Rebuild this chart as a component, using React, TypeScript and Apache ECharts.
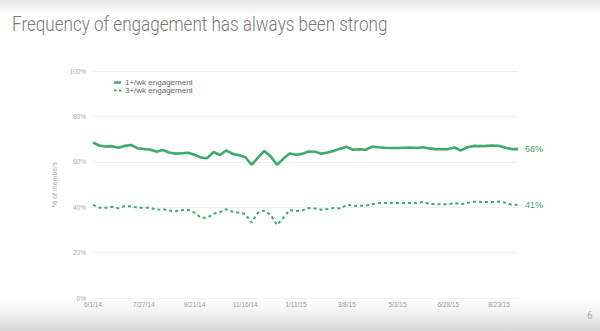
import React, { useEffect, useRef } from "react";
import * as echarts from "echarts";

const dates = [
  "6/1/14", "6/8/14", "6/15/14", "6/22/14", "6/29/14", "7/6/14", "7/13/14", "7/20/14",
  "7/27/14", "8/3/14", "8/10/14", "8/17/14", "8/24/14", "8/31/14", "9/7/14", "9/14/14",
  "9/21/14", "9/28/14", "10/5/14", "10/12/14", "10/19/14", "10/26/14", "11/2/14", "11/9/14",
  "11/16/14", "11/23/14", "11/30/14", "12/7/14", "12/14/14", "12/21/14", "12/28/14", "1/4/15",
  "1/11/15", "1/18/15", "1/25/15", "2/1/15", "2/8/15", "2/15/15", "2/22/15", "3/1/15",
  "3/8/15", "3/15/15", "3/22/15", "3/29/15", "4/5/15", "4/12/15", "4/19/15", "4/26/15",
  "5/3/15", "5/10/15", "5/17/15", "5/24/15", "5/31/15", "6/7/15", "6/14/15", "6/21/15",
  "6/28/15", "7/5/15", "7/12/15", "7/19/15", "7/26/15", "8/2/15", "8/9/15", "8/16/15",
  "8/23/15", "8/30/15", "9/6/15", "9/13/15",
];

const weekly1 = [
  68.5, 67.2, 66.7, 66.9, 66.2, 67.0, 67.4, 66.0, 65.6, 65.4, 64.4, 65.2, 64.1, 63.6, 63.8, 64.0,
  63.1, 61.9, 61.6, 64.3, 63.0, 65.0, 63.5, 62.9, 62.1, 58.7, 61.7, 64.8, 62.4, 58.7, 61.3, 63.7,
  63.1, 63.5, 64.5, 64.4, 63.6, 64.1, 64.9, 65.8, 66.6, 65.3, 65.5, 65.3, 66.7, 66.4, 66.2, 66.1,
  66.1, 66.2, 66.3, 66.1, 66.4, 65.9, 65.6, 65.5, 65.6, 66.3, 65.0, 66.4, 67.0, 66.9, 67.0, 67.2,
  67.1, 66.2, 65.6, 65.6,
];

const weekly3 = [
  41.0, 39.8, 39.8, 40.2, 39.6, 40.5, 40.4, 39.8, 39.8, 39.8, 38.8, 39.2, 38.5, 38.2, 38.7, 38.8,
  37.6, 35.4, 35.4, 37.1, 37.8, 39.1, 38.0, 37.6, 37.0, 33.2, 37.6, 38.5, 36.6, 32.2, 35.3, 38.8,
  38.2, 38.6, 39.6, 39.4, 38.9, 39.2, 39.6, 39.4, 41.1, 40.7, 40.6, 40.7, 41.3, 41.8, 41.9, 41.9,
  41.8, 41.8, 41.8, 41.8, 42.3, 41.5, 41.3, 41.3, 41.3, 41.8, 41.3, 41.9, 42.4, 42.3, 42.3, 42.3,
  42.5, 42.0, 41.1, 41.1,
];

const seriesNames = ["1+/wk engagement", "3+/wk engagement"];
const yTicks = [0, 20, 40, 60, 80, 100];
const title = "Frequency of engagement has always been strong";
const pageNumber = "6";

const GREEN = "#3dab6d";

export default function App() {
  const ref = useRef<HTMLDivElement>(null);

  useEffect(() => {
    if (!ref.current) return;
    const chart = echarts.init(ref.current, null, { renderer: "svg" });
    chart.setOption({
      animation: false,
      textStyle: { fontFamily: "Liberation Sans, Arial, sans-serif" },
      grid: { left: 93, right: 82, top: 71, bottom: 33, containLabel: false },
      graphic: [
        {
          type: "line",
          shape: { x1: 114, y1: 82.5, x2: 121, y2: 82.5 },
          style: { stroke: GREEN, lineWidth: 2.4 },
        },
        {
          type: "text",
          left: 125,
          top: 78.5,
          style: { text: seriesNames[0], fontSize: 8, fill: "#666", fontFamily: "Liberation Sans, Arial, sans-serif" },
        },
        {
          type: "line",
          shape: { x1: 114, y1: 90.5, x2: 121.5, y2: 90.5 },
          style: { stroke: GREEN, lineWidth: 2, lineDash: [2.5, 2.5] },
        },
        {
          type: "text",
          left: 125,
          top: 86.5,
          style: { text: seriesNames[1], fontSize: 8, fill: "#666", fontFamily: "Liberation Sans, Arial, sans-serif" },
        },
      ],
      xAxis: {
        type: "category",
        data: dates,
        boundaryGap: false,
        axisLine: { show: true, lineStyle: { color: "#f2f2f2", width: 1 } },
        axisTick: { show: false },
        axisLabel: { interval: 7, fontSize: 6.5, color: "#999", margin: 3 },
        splitLine: { show: false },
      },
      yAxis: {
        type: "value",
        min: 0,
        max: 100,
        interval: 20,
        name: "% of members",
        nameLocation: "middle",
        nameGap: 31,
        nameRotate: 90,
        nameTextStyle: { fontSize: 7, color: "#aaa" },
        axisLine: { show: false },
        axisTick: { show: false },
        axisLabel: {
          fontSize: 6.5,
          color: "#aaa",
          margin: 7,
          formatter: (v: number) => (yTicks.includes(v) ? v + "%" : ""),
        },
        splitLine: { lineStyle: { color: "#efefef", width: 1 } },
      },
      series: [
        {
          name: seriesNames[0],
          type: "line",
          data: weekly1,
          symbol: "none",
          lineStyle: { color: GREEN, width: 2.6 },
          itemStyle: { color: GREEN },
          endLabel: {
            show: true,
            formatter: (p: any) => Math.round(p.value) + "%",
            color: GREEN,
            fontSize: 9,
            distance: 7,
          },
        },
        {
          name: seriesNames[1],
          type: "line",
          data: weekly3,
          symbol: "none",
          lineStyle: { color: GREEN, width: 2, type: [3, 3] },
          itemStyle: { color: GREEN },
          endLabel: {
            show: true,
            formatter: (p: any) => Math.round(p.value) + "%",
            color: GREEN,
            fontSize: 9,
            distance: 7,
          },
        },
      ],
    });
    return () => chart.dispose();
  }, []);

  return (
    <div
      style={{
        position: "absolute",
        left: 0,
        top: 0,
        width: 600,
        height: 331,
        overflow: "hidden",
        background:
          "linear-gradient(to bottom, #e6e6e6 0px, #ffffff 14px, #ffffff 300px, #f0f0f0 315px, #d6d6d6 331px)",
        fontFamily: "Roboto, 'Liberation Sans', sans-serif",
      }}
    >
      <div
        style={{
          position: "absolute",
          left: 12,
          top: 13,
          fontSize: 19.5,
          fontWeight: 300,
          color: "#777",
          whiteSpace: "nowrap",
          transform: "scaleX(0.875)",
          transformOrigin: "left top",
        }}
      >
        {title}
      </div>
      <div
        style={{
          position: "absolute",
          left: 587,
          top: 310,
          fontSize: 10,
          color: "#aaa",
        }}
      >
        {pageNumber}
      </div>
      <div ref={ref} style={{ position: "absolute", left: 0, top: 0, width: 600, height: 331 }} />
    </div>
  );
}
